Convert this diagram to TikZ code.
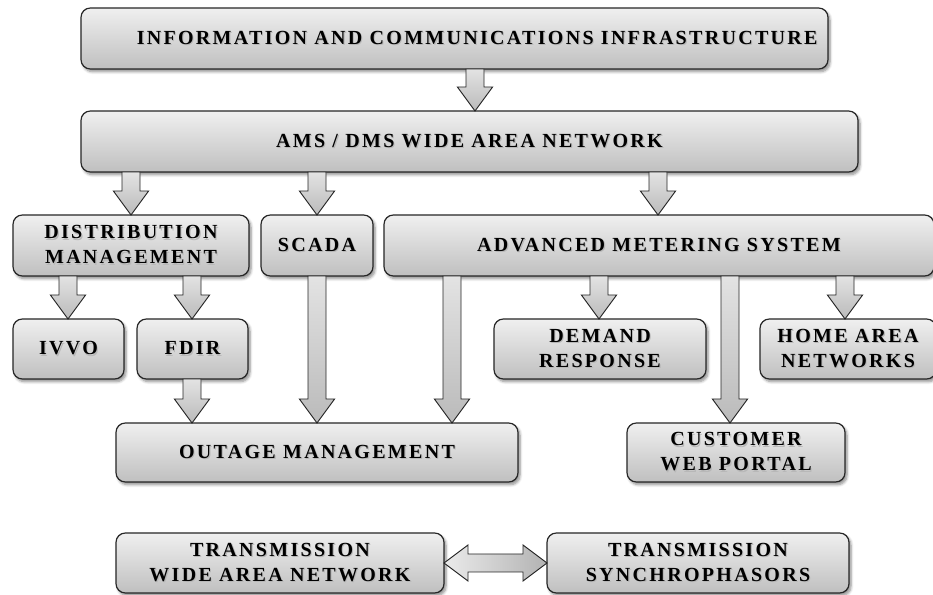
\documentclass[tikz,border=0pt]{standalone}
\usepackage{fontspec}
\setmainfont{Liberation Serif}
\newfontfamily\labelfont{Liberation Serif}[LetterSpace=11.5]
\usetikzlibrary{calc,shadows.blur}

% lettering with a faint offset shadow
\newcommand\sht[1]{\rlap{\kern0.8pt\raisebox{-0.8pt}{\textcolor{black!28}{#1}}}#1}

\tikzset{
  panel/.style={draw=black!85, line width=0.9pt, rounded corners=7pt,
    top color=black!6, bottom color=black!25,
    inner sep=0pt, outer sep=0pt, align=center,
    font=\labelfont\bfseries\fontsize{15}{18.75}\selectfont,
    blur shadow={shadow xshift=1.5pt, shadow yshift=-2pt,
      shadow blur radius=2pt, shadow blur steps=6, shadow opacity=45}},
  flow/.style={draw=black!85, line width=0.7pt, line join=miter,
    top color=black!11, bottom color=black!27},
  flowlr/.style={draw=black!85, line width=0.7pt, line join=miter,
    left color=black!8, right color=black!30},
}

% rounded box spanning (x1,y1)-(x2,y2) in pixel units
\newcommand\panel[6]{%
  \node[panel, minimum width={(#4-#2)*0.75pt}, minimum height={(#5-#3)*0.75pt}]
    (#1) at ({(#2+#4)/2},{(#3+#5)/2}) {#6};}

% hollow block arrow going down at x=#1 from node #2 to node #3
\newcommand\downflow[3]{%
  \path[flow] let \p1=(#2.south), \p2=(#3.north), \p3=(#1,0) in
    (\x3-6.75pt,\y1) -- (\x3+6.75pt,\y1) -- (\x3+6.75pt,\y2+18pt)
    -- (\x3+13.2pt,\y2+18pt) -- (\x3,\y2) -- (\x3-13.2pt,\y2+18pt)
    -- (\x3-6.75pt,\y2+18pt) -- cycle;}

\begin{document}
\begin{tikzpicture}[x=0.75pt, y=-0.75pt]
  \useasboundingbox (0,0) rectangle (933,595);

  % boxes
  \panel{ici}{81}{8}{828}{69}{\hspace*{34pt}\sht{INFORMATION AND COMMUNICATIONS INFRASTRUCTURE}}
  \panel{wan}{81}{111}{858}{172}{\sht{AMS / DMS WIDE AREA NETWORK}}
  \panel{dm}{13}{215}{249}{276}{\sht{DISTRIBUTION}\\\sht{MANAGEMENT}}
  \panel{scada}{261}{215}{373}{276}{\sht{SCADA}}
  \panel{ams}{384}{215}{934}{276}{\sht{ADVANCED METERING SYSTEM}}
  \panel{ivvo}{13}{319}{124}{379}{\sht{IVVO}}
  \panel{fdir}{137}{319}{248}{379}{\sht{FDIR}}
  \panel{demand}{494}{319}{706}{379}{\sht{DEMAND}\\\sht{RESPONSE}}
  \panel{home}{760}{319}{936}{379}{\sht{HOME AREA}\\\sht{NETWORKS}}
  \panel{outage}{116}{423}{518}{482}{\sht{OUTAGE MANAGEMENT}}
  \panel{cust}{627}{423}{845}{482}{\sht{CUSTOMER}\\\sht{WEB PORTAL}}
  \panel{twan}{116}{533}{444}{593}{\sht{TRANSMISSION}\\\sht{WIDE AREA NETWORK}}
  \panel{tsyn}{547}{533}{849}{593}{\sht{TRANSMISSION}\\\sht{SYNCHROPHASORS}}

  % downward flows
  \downflow{475}{ici}{wan}
  \downflow{131}{wan}{dm}
  \downflow{317}{wan}{scada}
  \downflow{658}{wan}{ams}
  \downflow{68}{dm}{ivvo}
  \downflow{192}{dm}{fdir}
  \downflow{192}{fdir}{outage}
  \downflow{317}{scada}{outage}
  \downflow{452}{ams}{outage}
  \downflow{599}{ams}{demand}
  \downflow{730}{ams}{cust}
  \downflow{845}{ams}{home}

  % two-way link between the transmission boxes
  \path[flowlr] let \p1=(twan.east), \p2=(tsyn.west) in
    (\x1,\y1) -- (\x1+18pt,\y1+13.5pt) -- (\x1+18pt,\y1+6.75pt)
    -- (\x2-18pt,\y1+6.75pt) -- (\x2-18pt,\y1+13.5pt) -- (\x2,\y1)
    -- (\x2-18pt,\y1-13.5pt) -- (\x2-18pt,\y1-6.75pt)
    -- (\x1+18pt,\y1-6.75pt) -- (\x1+18pt,\y1-13.5pt) -- cycle;
\end{tikzpicture}
\end{document}
